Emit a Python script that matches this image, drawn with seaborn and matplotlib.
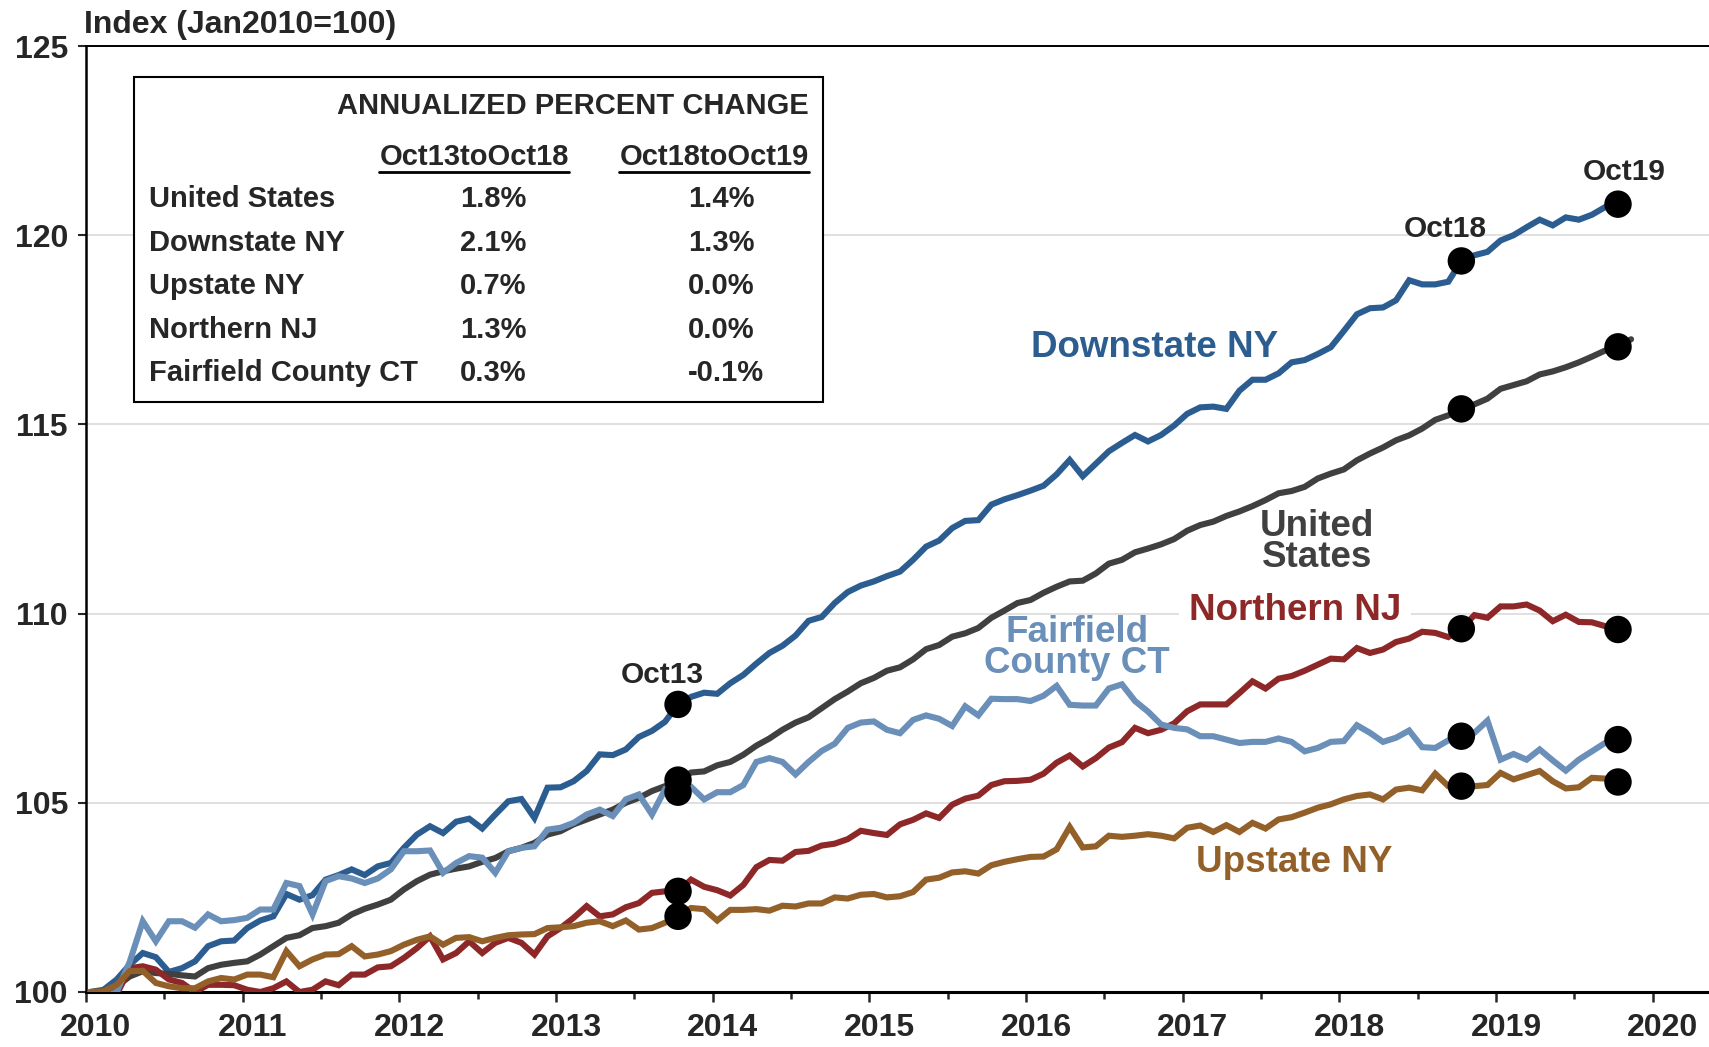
import numpy as np
import pandas as pd
import matplotlib
matplotlib.use('Agg')
import matplotlib.pyplot as plt
import matplotlib.transforms as mtransforms
from matplotlib.patches import Rectangle
import seaborn as sns

# monthly index values, Jan 2010 = 100
downstate_ny = [
    100.0, 100.06, 100.33, 100.72, 101.03, 100.92, 100.53, 100.63, 100.81, 101.21, 101.34, 101.36,
    101.69, 101.89, 102.0, 102.59, 102.44, 102.56, 102.97, 103.09, 103.24, 103.09, 103.32, 103.41,
    103.81, 104.16, 104.38, 104.2, 104.5, 104.58, 104.32, 104.69, 105.04, 105.1, 104.6, 105.4,
    105.41, 105.57, 105.84, 106.28, 106.26, 106.41, 106.74, 106.9, 107.14, 107.6, 107.8, 107.91,
    107.88, 108.16, 108.38, 108.68, 108.96, 109.15, 109.42, 109.81, 109.91, 110.28, 110.57, 110.74,
    110.85, 110.99, 111.11, 111.42, 111.77, 111.93, 112.26, 112.45, 112.47, 112.88, 113.02, 113.13,
    113.25, 113.38, 113.68, 114.06, 113.63, 113.96, 114.29, 114.51, 114.72, 114.55, 114.72, 114.97,
    115.28, 115.45, 115.47, 115.41, 115.89, 116.18, 116.18, 116.35, 116.64, 116.7, 116.86, 117.04,
    117.47, 117.91, 118.07, 118.09, 118.28, 118.81, 118.7, 118.7, 118.77, 119.32, 119.47, 119.56,
    119.86, 120.0, 120.21, 120.41, 120.26, 120.47, 120.41, 120.54, 120.74, 120.82]

united_states = [
    100.0, 100.02, 100.15, 100.41, 100.55, 100.5, 100.48, 100.44, 100.41, 100.63, 100.72, 100.77,
    100.81, 100.99, 101.21, 101.43, 101.5, 101.69, 101.74, 101.83, 102.05, 102.2, 102.31, 102.44,
    102.71, 102.93, 103.1, 103.19, 103.26, 103.32, 103.44, 103.54, 103.72, 103.81, 103.94, 104.16,
    104.25, 104.43, 104.56, 104.69, 104.82, 105.0, 105.13, 105.31, 105.44, 105.6, 105.8, 105.83,
    105.99, 106.08, 106.27, 106.51, 106.7, 106.93, 107.12, 107.26, 107.5, 107.74, 107.94, 108.16,
    108.3, 108.49, 108.58, 108.79, 109.06, 109.17, 109.39, 109.48, 109.62, 109.89, 110.08, 110.28,
    110.36, 110.55, 110.71, 110.85, 110.87, 111.06, 111.32, 111.42, 111.62, 111.72, 111.83, 111.97,
    112.19, 112.34, 112.43, 112.58, 112.7, 112.84, 113.0, 113.18, 113.24, 113.35, 113.57, 113.7,
    113.81, 114.05, 114.23, 114.39, 114.58, 114.71, 114.89, 115.12, 115.24, 115.41, 115.53, 115.68,
    115.94, 116.04, 116.14, 116.32, 116.4, 116.51, 116.64, 116.79, 116.95, 117.05, 117.25]

northern_nj = [
    100.0, 99.62, 99.93, 100.63, 100.68, 100.59, 100.33, 100.24, 100.0, 100.19, 100.19, 100.18,
    100.06, 100.0, 100.1, 100.28, 100.0, 100.06, 100.28, 100.18, 100.46, 100.46, 100.65, 100.68,
    100.9, 101.16, 101.47, 100.86, 101.03, 101.34, 101.03, 101.3, 101.43, 101.3, 100.99, 101.47,
    101.69, 101.96, 102.27, 102.0, 102.05, 102.24, 102.35, 102.62, 102.66, 102.66, 102.97, 102.78,
    102.69, 102.55, 102.83, 103.3, 103.49, 103.47, 103.7, 103.73, 103.87, 103.92, 104.04, 104.26,
    104.2, 104.15, 104.43, 104.55, 104.72, 104.6, 104.95, 105.11, 105.19, 105.47, 105.57, 105.58,
    105.61, 105.77, 106.06, 106.25, 105.96, 106.18, 106.46, 106.6, 106.98, 106.84, 106.93, 107.1,
    107.42, 107.6, 107.6, 107.6, 107.9, 108.21, 108.02, 108.28, 108.35, 108.49, 108.65, 108.81,
    108.79, 109.09, 108.96, 109.05, 109.25, 109.34, 109.52, 109.49, 109.38, 109.6, 109.96, 109.89,
    110.19, 110.19, 110.24, 110.08, 109.8, 109.97, 109.78, 109.77, 109.67, 109.58]

fairfield_ct = [
    100.0, 99.85, 100.0, 100.8, 101.87, 101.34, 101.87, 101.87, 101.7, 102.05, 101.87, 101.9,
    101.96, 102.18, 102.18, 102.88, 102.8, 102.05, 102.93, 103.06, 103.0, 102.88, 103.0, 103.24,
    103.72, 103.72, 103.74, 103.15, 103.41, 103.59, 103.55, 103.15, 103.72, 103.81, 103.85, 104.29,
    104.34, 104.47, 104.69, 104.82, 104.65, 105.09, 105.22, 104.69, 105.35, 105.28, 105.42, 105.09,
    105.28, 105.28, 105.47, 106.08, 106.18, 106.08, 105.75, 106.08, 106.37, 106.56, 106.98, 107.12,
    107.15, 106.93, 106.84, 107.19, 107.31, 107.22, 107.03, 107.55, 107.31, 107.75, 107.74, 107.74,
    107.69, 107.83, 108.09, 107.59, 107.57, 107.57, 108.02, 108.13, 107.69, 107.41, 107.07, 106.98,
    106.94, 106.76, 106.76, 106.67, 106.58, 106.61, 106.61, 106.7, 106.61, 106.36, 106.45, 106.61,
    106.63, 107.05, 106.85, 106.61, 106.72, 106.91, 106.47, 106.45, 106.65, 106.76, 106.85, 107.17,
    106.14, 106.29, 106.14, 106.41, 106.12, 105.85, 106.14, 106.36, 106.58, 106.67]

upstate_ny = [
    100.0, 100.02, 100.19, 100.55, 100.56, 100.24, 100.15, 100.1, 100.1, 100.28, 100.37, 100.33,
    100.46, 100.46, 100.39, 101.08, 100.68, 100.86, 100.99, 101.0, 101.21, 100.94, 100.99, 101.08,
    101.25, 101.38, 101.47, 101.25, 101.43, 101.45, 101.34, 101.43, 101.5, 101.52, 101.53, 101.69,
    101.71, 101.74, 101.83, 101.87, 101.74, 101.89, 101.65, 101.69, 101.83, 102.0, 102.22, 102.19,
    101.89, 102.17, 102.17, 102.19, 102.15, 102.28, 102.26, 102.34, 102.34, 102.5, 102.47, 102.57,
    102.59, 102.5, 102.53, 102.64, 102.97, 103.02, 103.16, 103.19, 103.13, 103.35, 103.44, 103.51,
    103.57, 103.58, 103.77, 104.36, 103.82, 103.85, 104.13, 104.1, 104.13, 104.17, 104.13, 104.06,
    104.34, 104.4, 104.23, 104.41, 104.23, 104.47, 104.32, 104.56, 104.62, 104.74, 104.87, 104.96,
    105.09, 105.18, 105.22, 105.09, 105.35, 105.4, 105.33, 105.77, 105.44, 105.44, 105.44, 105.47,
    105.79, 105.62, 105.73, 105.84, 105.57, 105.38, 105.41, 105.66, 105.64, 105.55]

regions = ['Downstate NY', 'United States', 'Northern NJ', 'Fairfield County CT', 'Upstate NY']
colors = ['#2C5D91', '#404040', '#8E2828', '#6A8FB8', '#93602A']

# table values
table_rows = ['United States', 'Downstate NY', 'Upstate NY', 'Northern NJ', 'Fairfield County CT']
chg_13_18 = ['1.8%', '2.1%', '0.7%', '1.3%', '0.3%']
chg_18_19 = ['1.4%', '1.3%', '0.0%', '0.0%', '-0.1%']

marker_months = [45, 105, 117]  # Oct13, Oct18, Oct19

series = dict(zip(regions, [downstate_ny, united_states, northern_nj, fairfield_ct, upstate_ny]))
frames = []
for name, vals in series.items():
    m = np.arange(len(vals))
    frames.append(pd.DataFrame({'month': m, 'year': 2010 + (m + 0.35) / 12,
                                'index': vals, 'region': name}))
df = pd.concat(frames, ignore_index=True)
dots = df[df['month'].isin(marker_months)]

sns.set_theme(style='white')
plt.rcParams['font.family'] = ['Liberation Sans', 'DejaVu Sans']
plt.rcParams['font.weight'] = 'bold'

W, H = 1709, 1047
fig = plt.figure(figsize=(W / 100, H / 100), dpi=100)
ax = fig.add_axes([86 / W, 1 - 992 / H, 1 - 86 / W, (992 - 46) / H])


def px(x, y):
    return x / W, 1 - y / H


for yv in [105, 110, 115, 120]:
    ax.axhline(yv, color='#DADADA', lw=1.2, zorder=0)

sns.lineplot(data=df, x='year', y='index', hue='region', palette=dict(zip(regions, colors)),
             hue_order=regions, legend=False, sort=False, ax=ax, zorder=3)
for ln in ax.get_lines()[4:]:
    ln.set_linewidth(4.4)
    ln.set_solid_joinstyle('miter')
sns.scatterplot(data=dots, x='year', y='index', color='black', s=390, edgecolor='none',
                legend=False, ax=ax, zorder=5)

ax.set_xlim(2010, 2020.36)
ax.set_ylim(100, 125)
ax.set_xlabel('')
ax.set_ylabel('')
ax.set_xticks(range(2010, 2021))
ax.set_xticks(np.arange(2010.5, 2020, 1), minor=True)
ax.set_yticks(range(100, 126, 5))
ax.tick_params(axis='x', which='major', direction='out', length=7, width=1.8, pad=8,
               labelsize=23, bottom=True)
ax.tick_params(axis='x', which='minor', direction='out', length=5, width=1.8, bottom=True)
ax.tick_params(axis='y', direction='out', length=6, width=1.5, pad=7, labelsize=23, left=True)
for lab in ax.get_xticklabels() + ax.get_yticklabels():
    lab.set_fontweight('bold')
offset = mtransforms.ScaledTranslation(0.1, 0, fig.dpi_scale_trans)
for lab in ax.get_xticklabels():
    lab.set_transform(lab.get_transform() + offset)

for side in ['left', 'bottom', 'top']:
    ax.spines[side].set_visible(True)
    ax.spines[side].set_color('black')
ax.spines['right'].set_visible(False)
ax.spines['bottom'].set_linewidth(2.2)
ax.spines['left'].set_linewidth(1.8)
ax.spines['top'].set_linewidth(1.4)

fig.text(*px(84, 25), 'Index (Jan2010=100)', fontsize=23, fontweight='bold', va='center', ha='left')

# series labels
lab_kw = dict(fontsize=26.5, fontweight='bold', ha='center', va='center', linespacing=0.85)
fig.text(*px(1155, 347), 'Downstate NY', color=colors[0], **lab_kw)
fig.text(*px(1317, 542), 'United\nStates', color=colors[1], **lab_kw)
ax.text(*px(1295, 611), 'Northern NJ', color=colors[2], transform=fig.transFigure, zorder=1,
        bbox=dict(facecolor='white', edgecolor='none', pad=7), **lab_kw)
fig.text(*px(1077, 648), 'Fairfield\nCounty CT', color=colors[3], **lab_kw)
fig.text(*px(1294, 863), 'Upstate NY', color=colors[4], **lab_kw)

oct_kw = dict(fontsize=21.5, fontweight='bold', ha='center', va='center')
fig.text(*px(662, 675), 'Oct13', **oct_kw)
fig.text(*px(1445, 229), 'Oct18', **oct_kw)
fig.text(*px(1624, 172), 'Oct19', **oct_kw)

# table box
x0, y0 = px(134, 402)
x1, y1 = px(823, 77)
ax.add_patch(Rectangle((x0, y0), x1 - x0, y1 - y0, transform=fig.transFigure,
                       facecolor='white', edgecolor='black', lw=1.5, zorder=6))
tk = dict(fontsize=21, fontweight='bold', va='center', zorder=7)
fig.text(*px(809, 106), 'ANNUALIZED PERCENT CHANGE', ha='right', **tk)
h1 = fig.text(*px(474, 157), 'Oct13toOct18', ha='center', **tk)
h2 = fig.text(*px(714, 157), 'Oct18toOct19', ha='center', **tk)
row_y = [199, 243, 286, 330, 373]
for yy, name, a, b in zip(row_y, table_rows, chg_13_18, chg_18_19):
    fig.text(*px(149, yy), name, ha='left', **tk)
    fig.text(*px(460, yy), a, ha='left', **tk)
    fig.text(*px(688, yy), b, ha='left', **tk)

fig.canvas.draw()
renderer = fig.canvas.get_renderer()
for h in [h1, h2]:
    bb = h.get_window_extent(renderer)
    yl = bb.y0 - 1
    fig.add_artist(plt.Line2D([bb.x0 / W, bb.x1 / W], [yl / H, yl / H],
                              transform=fig.transFigure, color='black', lw=2, zorder=8))

fig.savefig('out.png', dpi=100)
